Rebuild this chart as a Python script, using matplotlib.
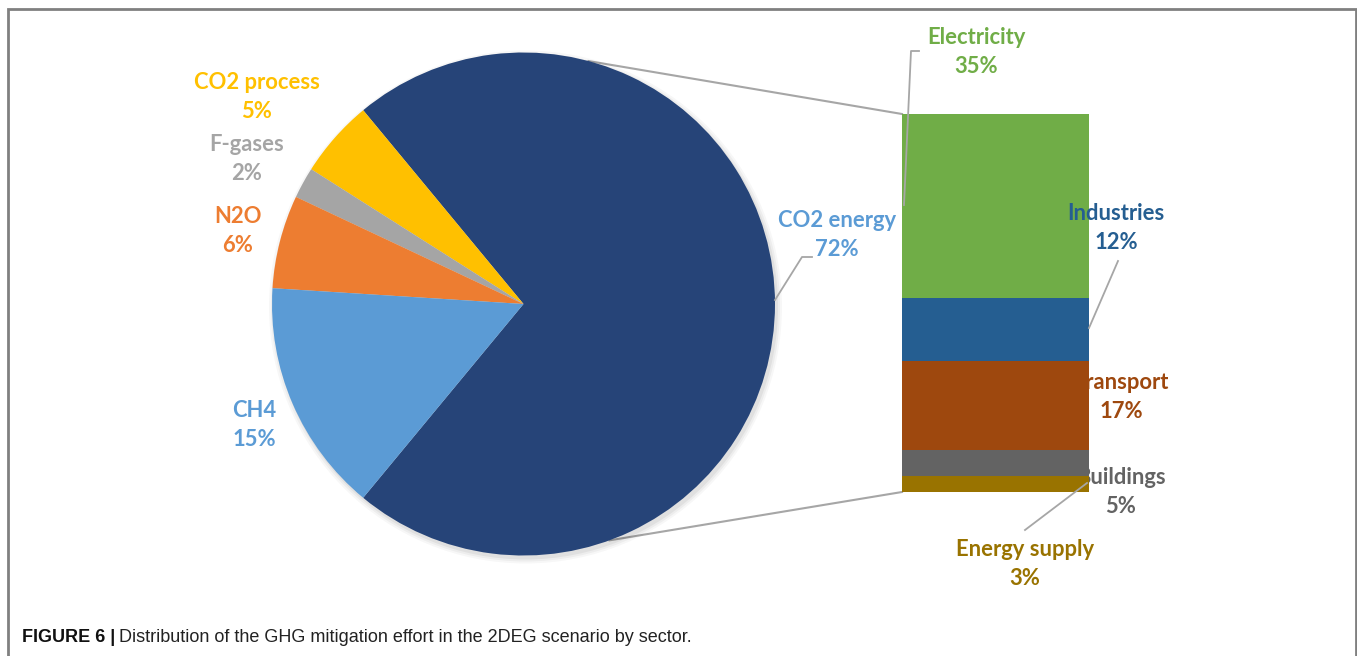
import matplotlib
matplotlib.use("Agg")
import numpy as np
import matplotlib.pyplot as plt
from matplotlib.patches import Rectangle

# Pie data (counterclockwise from the bottom edge of the big slice)
pie_labels = ["CO2 energy", "CO2 process", "F-gases", "N2O", "CH4"]
pie_values = [72, 5, 2, 6, 15]
pie_colors = ["#264478", "#FFC000", "#A5A5A5", "#ED7D31", "#5B9BD5"]

# Breakdown of CO2 energy, from bottom of the stacked bar to top
bar_labels = ["Energy supply", "Buildings", "Transport", "Industries", "Electricity"]
bar_values = [3, 5, 17, 12, 35]
bar_colors = ["#997300", "#636363", "#9E480E", "#255E91", "#70AD47"]

FONT = ["Lato", "DejaVu Sans"]
W, H = 1357, 656

fig = plt.figure(figsize=(W / 100, H / 100), dpi=100)
ax = fig.add_axes([0, 0, 1, 1])

# Pie
cx, cy, r = 523.5, 352, 251.5
start = -pie_values[0] / 100 * 360 / 2
wedges, _ = ax.pie(pie_values, colors=pie_colors, startangle=start, counterclock=True,
                   center=(cx, cy), radius=r, frame=True,
                   wedgeprops=dict(linewidth=0, zorder=3))
ax.set_xlim(0, W)
ax.set_ylim(0, H)
ax.axis("off")
ax.set_aspect("equal")

# soft shadow under the pie
for k, a in enumerate([0.05, 0.04, 0.03]):
    ax.add_patch(plt.Circle((cx + 2, cy - 3), r + 1 + k * 2, color="black", alpha=a,
                            lw=0, zorder=2))

# Stacked bar
bx0, bx1 = 902, 1089
scale = 5.25
bottom = 656 - 492
for lab, v, c in zip(bar_labels, bar_values, bar_colors):
    ax.bar((bx0 + bx1) / 2, v * scale, width=bx1 - bx0, bottom=bottom, color=c,
           linewidth=0, zorder=4)
    bottom += v * scale
bar_top = bottom
bar_bot = 656 - 492

# Connector lines from pie to bar
a1, a2 = np.radians(75), np.radians(-70)
ax.plot([cx + r * np.cos(a1), bx0], [cy + r * np.sin(a1), bar_top], color="#A6A6A6", lw=1.5, zorder=1)
ax.plot([cx + r * np.cos(a2), bx0], [cy + r * np.sin(a2), bar_bot], color="#A6A6A6", lw=1.5, zorder=1)

# Labels
def lab(x, y, t, c, z=3.5):
    ax.text(x, H - y, t, color=c, ha="center", va="center", fontsize=15.8,
            fontweight="bold", family=FONT, linespacing=1.45, zorder=z)

lab(257, 97, "CO2 process\n5%", "#FFC000")
lab(247, 159, "F-gases\n2%", "#A5A5A5")
lab(238, 231, "N2O\n6%", "#ED7D31")
lab(254, 425, "CH4\n15%", "#5B9BD5")
lab(837, 235, "CO2 energy\n72%", "#5B9BD5")
lab(976, 52, "Electricity\n35%", "#70AD47")
lab(1116, 228, "Industries\n12%", "#255E91", z=6)
lab(1121, 397, "Transport\n17%", "#9E480E")
lab(1121, 492, "Buildings\n5%", "#636363")
lab(1025, 564, "Energy supply\n3%", "#997300")

# Leader lines
lc = "#A6A6A6"
def leader(pts):
    xs = [p[0] for p in pts]
    ys = [H - p[1] for p in pts]
    ax.plot(xs, ys, color=lc, lw=1.3, zorder=5)

leader([(775, 300), (802, 257), (812, 257)])
leader([(919, 51), (911, 51), (904, 205)])
leader([(1089, 328), (1118, 261)])
leader([(1025, 530), (1087, 483)])

# Frame
ax.add_patch(Rectangle((8, -10), 1348, H - 9 + 10, fill=False, edgecolor="#808080", lw=2, zorder=7))

# Caption
cap_font = ["Liberation Sans", "DejaVu Sans"]
t1 = ax.text(22, H - 637, "FIGURE 6 |", fontsize=13, fontweight="bold", va="center",
             family=cap_font, color="#111111")
fig.canvas.draw()
bb = t1.get_window_extent(fig.canvas.get_renderer())
ax.text(bb.x1 + 4, H - 637, "Distribution of the GHG mitigation effort in the 2DEG scenario by sector.",
        fontsize=13, va="center", family=cap_font, color="#222222")

fig.savefig("out.png", dpi=100)
